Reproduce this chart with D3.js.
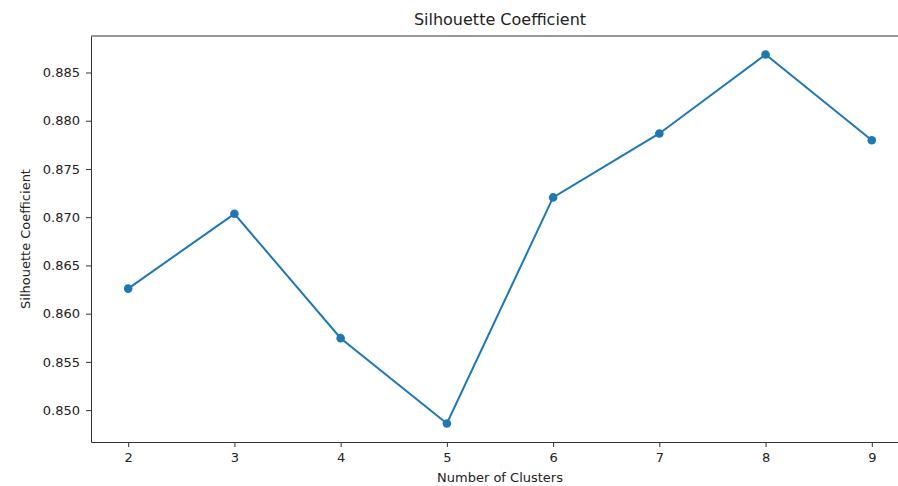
<!DOCTYPE html>
<html>
<head>
<meta charset="utf-8">
<script src="https://cdn.jsdelivr.net/npm/d3@7"></script>
<style>
  body { margin: 0; background: #fff; }
  svg text { font-family: "DejaVu Sans", sans-serif; fill: #222; }
  .axis path, .axis line { stroke: #333; }
</style>
</head>
<body>
<div id="chart"></div>
<script>
// data
var clusters = [2, 3, 4, 5, 6, 7, 8, 9];
var scores = [0.8626, 0.87035, 0.85746, 0.84861, 0.87205, 0.87868, 0.88687, 0.87798];
var yTicks = [0.850, 0.855, 0.860, 0.865, 0.870, 0.875, 0.880, 0.885];

// set the dimensions and margins of the graph
var margin = { top: 36, right: -11, bottom: 44, left: 91 },
    width = 898 - margin.left - margin.right,
    height = 486 - margin.top - margin.bottom;

var svg = d3.select("#chart")
    .append("svg")
    .attr("width", 898)
    .attr("height", 486);

var g = svg.append("g")
    .attr("transform", "translate(" + margin.left + "," + margin.top + ")");

// matplotlib style 5% padding on both axes
var xPad = (d3.max(clusters) - d3.min(clusters)) * 0.05;
var x = d3.scaleLinear()
    .domain([d3.min(clusters) - xPad, d3.max(clusters) + xPad])
    .range([0, width]);

var yPad = (d3.max(scores) - d3.min(scores)) * 0.05;
var y = d3.scaleLinear()
    .domain([d3.min(scores) - yPad, d3.max(scores) + yPad])
    .range([height, 0]);

// x axis
var xAxis = g.append("g")
    .attr("class", "axis")
    .attr("transform", "translate(0," + height + ")")
    .call(d3.axisBottom(x).tickValues(clusters).tickSizeInner(5).tickSizeOuter(0).tickPadding(6).tickFormat(d3.format("d")));
xAxis.selectAll("text").style("font-size", "13px");

// y axis
var yAxis = g.append("g")
    .attr("class", "axis")
    .call(d3.axisLeft(y).tickValues(yTicks).tickSizeInner(5).tickSizeOuter(0).tickPadding(6).tickFormat(d3.format(".3f")));
yAxis.selectAll("text").style("font-size", "13px");

// top + right spines
g.append("line")
    .attr("x1", 0).attr("x2", width)
    .attr("y1", 0).attr("y2", 0)
    .attr("stroke", "#333");
g.append("line")
    .attr("x1", width).attr("x2", width)
    .attr("y1", 0).attr("y2", height)
    .attr("stroke", "#333");

// line
var line = d3.line()
    .x(function (d, i) { return x(clusters[i]); })
    .y(function (d) { return y(d); });

g.append("path")
    .datum(scores)
    .attr("fill", "none")
    .attr("stroke", "#1f77b4")
    .attr("stroke-width", 2)
    .attr("d", line);

// markers
g.selectAll(".dot")
    .data(scores)
    .enter().append("circle")
    .attr("class", "dot")
    .attr("cx", function (d, i) { return x(clusters[i]); })
    .attr("cy", function (d) { return y(d); })
    .attr("r", 4.3)
    .attr("fill", "#1f77b4");

// title
g.append("text")
    .attr("x", width / 2)
    .attr("y", -11)
    .style("text-anchor", "middle")
    .style("font-size", "16px")
    .text("Silhouette Coefficient");

// x label
g.append("text")
    .attr("x", width / 2)
    .attr("y", height + 40)
    .style("text-anchor", "middle")
    .style("font-size", "13px")
    .text("Number of Clusters");

// y label
g.append("text")
    .attr("transform", "rotate(-90)")
    .attr("x", -height / 2)
    .attr("y", -61)
    .style("text-anchor", "middle")
    .style("font-size", "13px")
    .text("Silhouette Coefficient");
</script>
</body>
</html>
